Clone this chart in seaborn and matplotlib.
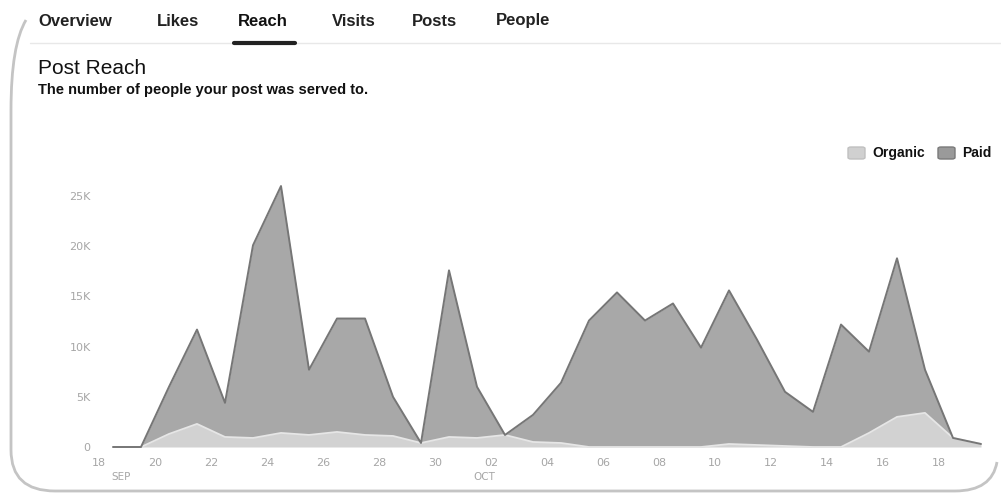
import numpy as np
import pandas as pd
import matplotlib
matplotlib.use("Agg")
import matplotlib.pyplot as plt
from matplotlib.patches import FancyBboxPatch
from matplotlib.path import Path
from matplotlib.patches import PathPatch
import matplotlib.transforms as mtransforms
import seaborn as sns

# daily values, Sep 18 .. Oct 19
dates = pd.date_range("2014-09-18", "2014-10-19", freq="D")
organic = [0, 0, 1300, 2300, 1000, 900, 1400, 1200, 1500, 1200, 1100, 400,
           1000, 900, 1200, 500, 400, 0, 0, 0, 0, 0, 300, 200, 100, 0, 0,
           1400, 3000, 3400, 900, 300]
paid = [0, 0, 4700, 9400, 3400, 19200, 24600, 6500, 11300, 11600, 3900, 0,
        16600, 5100, 0, 2700, 6000, 12600, 15400, 12600, 14300, 9900, 15300,
        10500, 5400, 3500, 12200, 8100, 15800, 4300, 0, 0]

tabs = ["Overview", "Likes", "Reach", "Visits", "Posts", "People"]
tab_x = [38, 157, 238, 332, 412, 496]
tick_labels = ["18", "20", "22", "24", "26", "28", "30", "02", "04", "06",
               "08", "10", "12", "14", "16", "18"]
month_labels = ["SEP", "OCT"]
y_ticks = [0, 5000, 10000, 15000, 20000, 25000]
y_labels = ["0", "5K", "10K", "15K", "20K", "25K"]

df = pd.DataFrame({"date": dates, "Organic": organic, "Paid": paid})
df["day"] = (df["date"] - df["date"].iloc[0]).dt.days + 0.5
df["Total"] = df["Organic"] + df["Paid"]

sns.set_theme(style="white")
plt.rcParams["font.family"] = ["Liberation Sans", "DejaVu Sans"]

W, H = 1001, 495
fig = plt.figure(figsize=(W / 100, H / 100), dpi=100)
fig.patch.set_facecolor("white")


def fx(px):
    return px / W


def fy(py):
    return 1 - py / H


ax = fig.add_axes([fx(99), fy(447), fx(882), 271 / H])
ax.set_facecolor("none")

paid_fill = "#a8a8a8"
org_fill = "#d2d2d2"

ax.fill_between(df["day"], 0, df["Organic"], color=org_fill, lw=0, zorder=2)
ax.fill_between(df["day"], df["Organic"], df["Total"], color=paid_fill, lw=0, zorder=2)
sns.lineplot(data=df, x="day", y="Total", ax=ax, color="#767676", lw=1.4,
             zorder=4, clip_on=False)
sns.lineplot(data=df, x="day", y="Organic", ax=ax, color="#e6e6e6", lw=1.3,
             zorder=3, clip_on=False)

ax.set_xlim(0, 31.5)
ax.set_ylim(0, 27000)
ax.set_xticks(np.arange(0, 31, 2))
ax.set_xticklabels(tick_labels)
ax.set_yticks(y_ticks)
ax.set_yticklabels(y_labels)
ax.tick_params(axis="both", length=0, labelsize=8, colors="#a6a6a6")
ax.tick_params(axis="x", pad=8)
ax.tick_params(axis="y", pad=6)
for lab in ax.get_xticklabels() + ax.get_yticklabels():
    lab.set_family("DejaVu Sans")
ax.set_xlabel("")
ax.set_ylabel("")
sns.despine(ax=ax, left=True, bottom=True)

trans = mtransforms.blended_transform_factory(ax.transData, fig.transFigure)
ax.text(0.8, fy(477), month_labels[0], transform=trans, ha="center", va="center",
        fontsize=7.5, color="#a6a6a6", family="DejaVu Sans")
ax.text(13.75, fy(477), month_labels[1], transform=trans, ha="center", va="center",
        fontsize=7.5, color="#a6a6a6", family="DejaVu Sans")

# tabs
for name, x in zip(tabs, tab_x):
    fig.text(fx(x), fy(21), name, ha="left", va="center", fontsize=12,
             fontweight="bold", color="#111111" if name == "Reach" else "#222222")
fig.add_artist(plt.Line2D([fx(30), 1], [fy(43), fy(43)], color="#e8e8e8", lw=1))
fig.add_artist(plt.Line2D([fx(234), fx(295)], [fy(43), fy(43)], color="#222222",
                          lw=3, solid_capstyle="round"))

fig.text(fx(38), fy(68), "Post Reach", ha="left", va="center", fontsize=15,
         color="#111111")
fig.text(fx(38), fy(90), "The number of people your post was served to.",
         ha="left", va="center", fontsize=10.5, fontweight="bold", color="#111111")

# legend
for sx, tx, label, fc, ec in [(848, 872, "Organic", "#d0d0d0", "#c0c0c0"),
                               (938, 962, "Paid", "#9a9a9a", "#7a7a7a")]:
    fig.add_artist(FancyBboxPatch((fx(sx), fy(159)), fx(17), 12 / H,
                                  boxstyle="round,pad=0,rounding_size=0.003",
                                  fc=fc, ec=ec, lw=1))
    fig.text(fx(tx), fy(153), label, ha="left", va="center", fontsize=10,
             fontweight="bold", color="#111111")

# card border
verts = [(26, 20), (11, 45), (11, 110), (11, 450), (11, 491), (55, 491),
         (955, 491), (992, 491), (997, 462)]
codes = [Path.MOVETO, Path.CURVE3, Path.CURVE3, Path.LINETO, Path.CURVE3,
         Path.CURVE3, Path.LINETO, Path.CURVE3, Path.CURVE3]
path = Path([(fx(a), fy(b)) for a, b in verts], codes)
fig.add_artist(PathPatch(path, fc="none", ec="#c4c4c4", lw=2,
                         transform=fig.transFigure))

fig.savefig("out.png", dpi=100)
